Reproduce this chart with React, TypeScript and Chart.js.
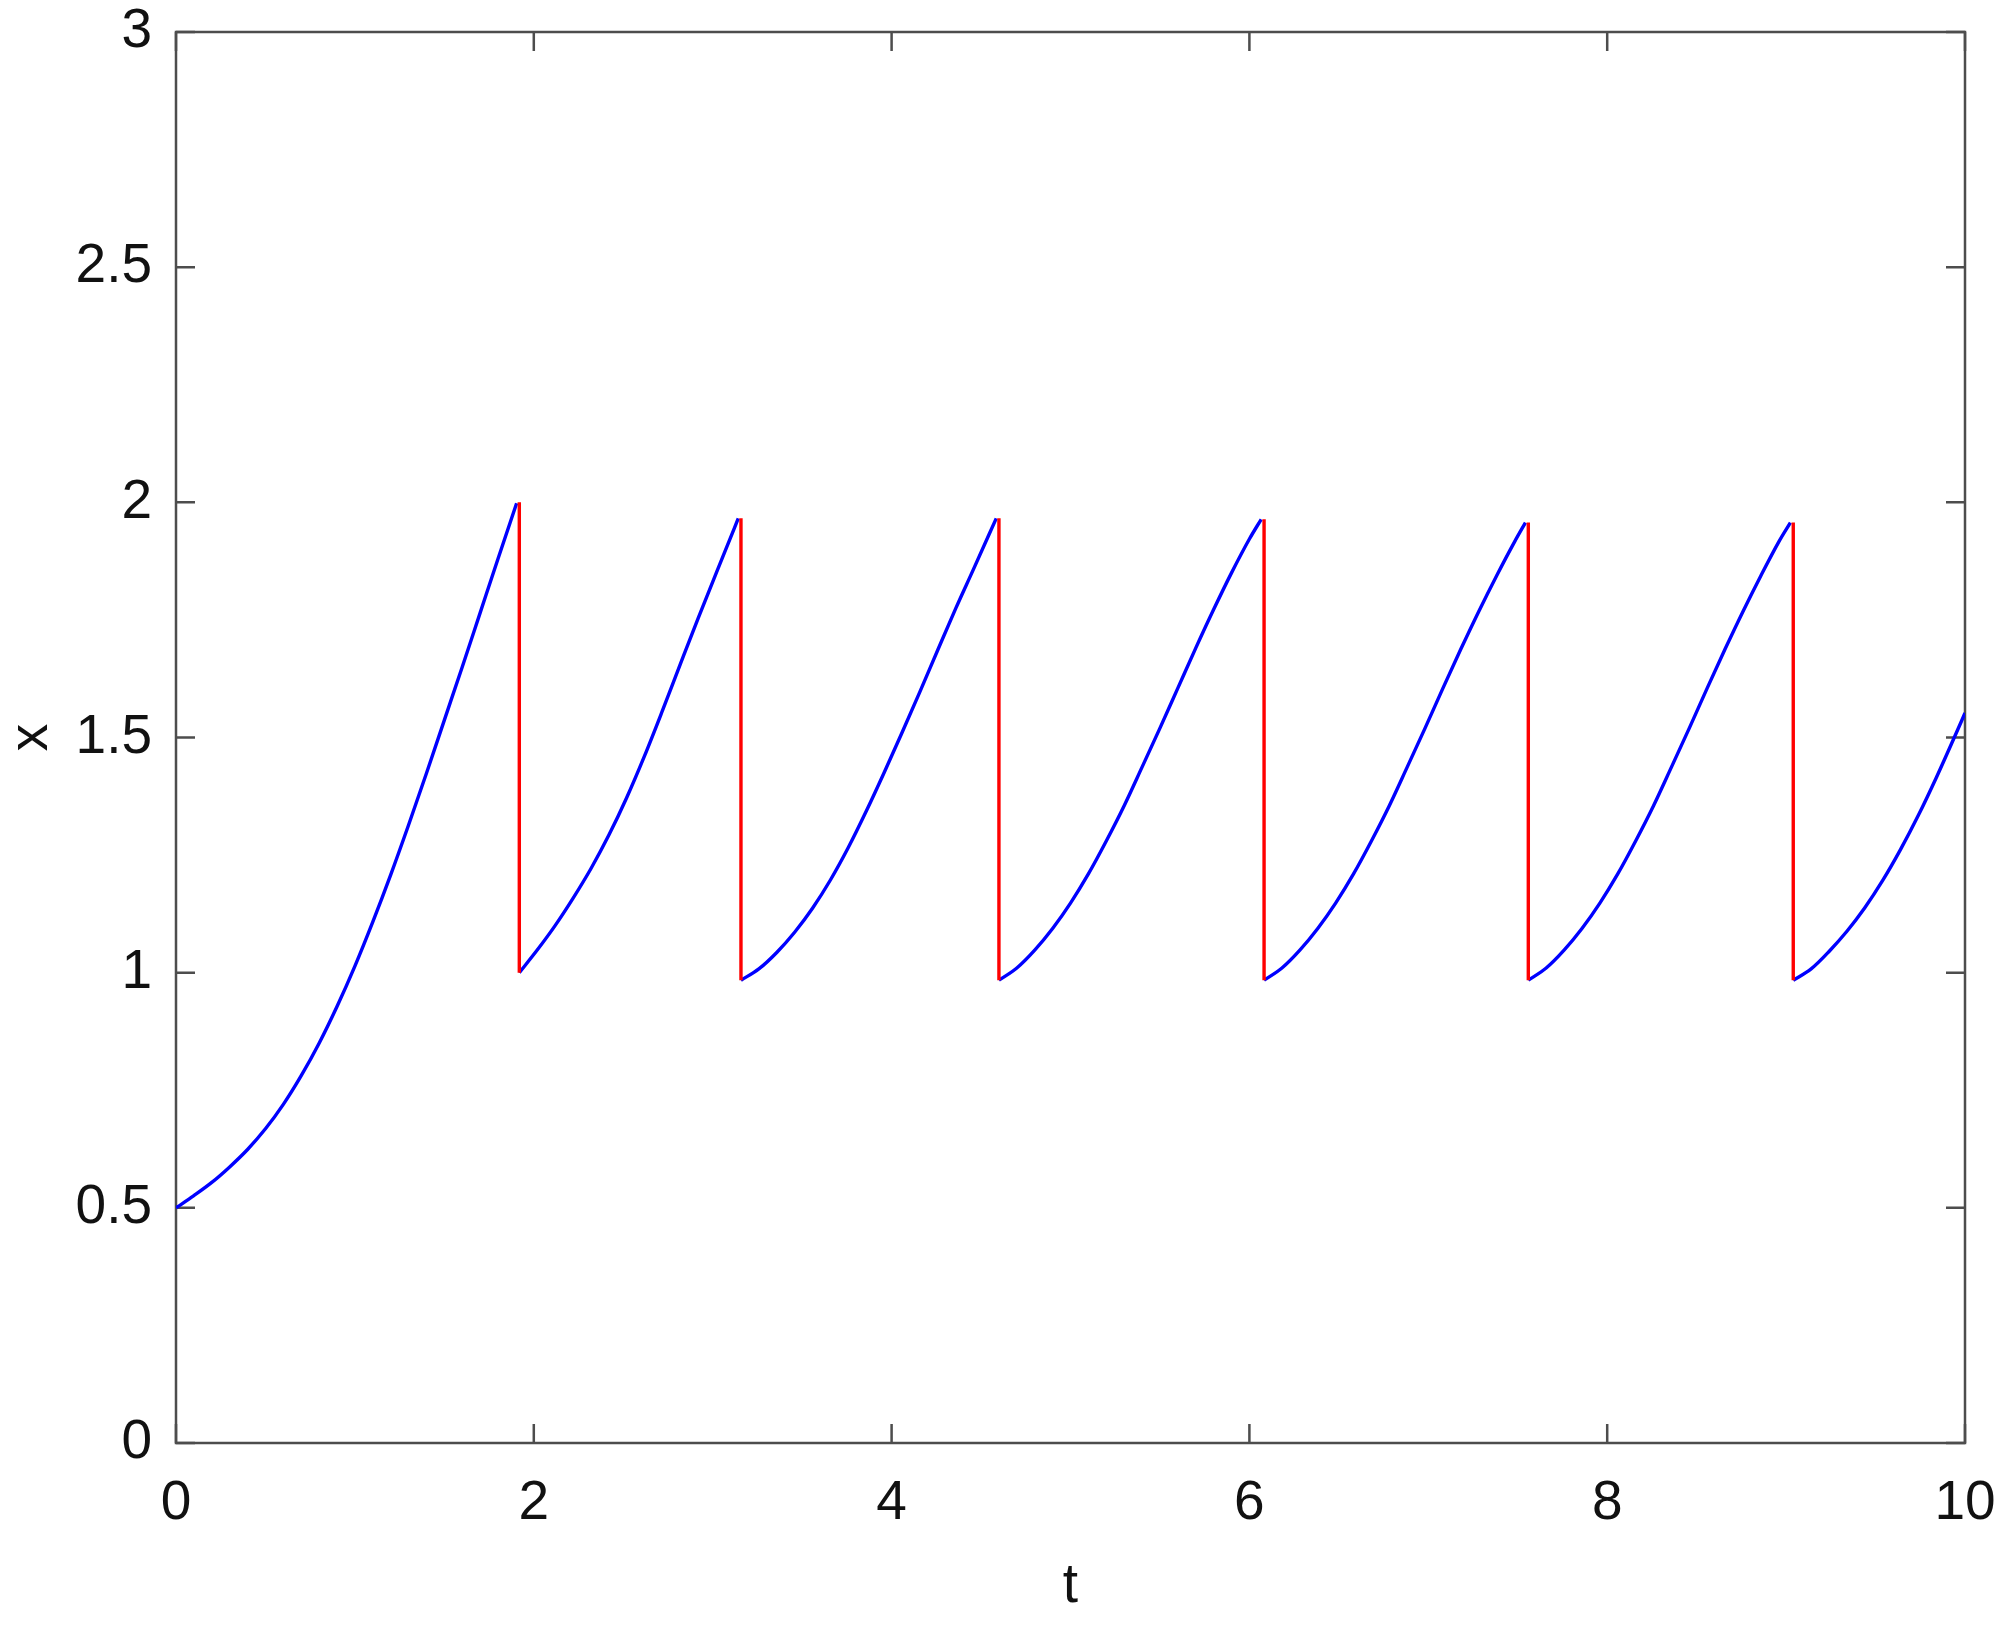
import React, { useEffect, useRef } from "react";
import { Chart, registerables } from "chart.js";

Chart.register(...registerables);

// ---- data ----
const xTicks = [0, 2, 4, 6, 8, 10];
const yTicks = [0, 0.5, 1, 1.5, 2, 2.5, 3];

const seg1T = [0, 0.1, 0.2, 0.3, 0.4, 0.5, 0.6, 0.7, 0.8, 0.9, 1.0, 1.1, 1.2, 1.3, 1.4, 1.5, 1.6, 1.7, 1.8, 1.904];
const seg1X = [0.5, 0.526, 0.554, 0.587, 0.624, 0.668, 0.72, 0.781, 0.85, 0.928, 1.014, 1.108, 1.208, 1.314, 1.424, 1.537, 1.65, 1.765, 1.88, 1.998];

const seg2T = [1.919, 2.019, 2.119, 2.219, 2.319, 2.419, 2.519, 2.619, 2.719, 2.819, 2.919, 3.019, 3.119, 3.143];
const seg2X = [1.0, 1.048, 1.1, 1.158, 1.221, 1.292, 1.372, 1.461, 1.557, 1.656, 1.754, 1.849, 1.943, 1.966];

const seg3T = [3.158, 3.258, 3.358, 3.458, 3.558, 3.658, 3.758, 3.858, 3.958, 4.058, 4.158, 4.258, 4.358, 4.458, 4.585];
const seg3X = [0.984, 1.008, 1.043, 1.086, 1.137, 1.197, 1.266, 1.343, 1.425, 1.51, 1.597, 1.686, 1.774, 1.858, 1.966];

const seg4T = [4.6, 4.7, 4.8, 4.9, 5.0, 5.1, 5.2, 5.3, 5.4, 5.5, 5.6, 5.7, 5.8, 5.9, 6.0, 6.066];
const seg4X = [0.984, 1.01, 1.048, 1.094, 1.148, 1.21, 1.28, 1.355, 1.437, 1.52, 1.605, 1.69, 1.772, 1.85, 1.922, 1.964];

const seg5T = [6.082, 6.182, 6.282, 6.382, 6.482, 6.582, 6.682, 6.782, 6.882, 6.982, 7.082, 7.182, 7.282, 7.382, 7.482, 7.543];
const seg5X = [0.984, 1.01, 1.048, 1.094, 1.148, 1.21, 1.28, 1.355, 1.437, 1.52, 1.605, 1.688, 1.768, 1.844, 1.916, 1.957];

const seg6T = [7.559, 7.659, 7.759, 7.859, 7.959, 8.059, 8.159, 8.259, 8.359, 8.459, 8.559, 8.659, 8.759, 8.859, 8.959, 9.024];
const seg6X = [0.984, 1.01, 1.048, 1.094, 1.148, 1.21, 1.28, 1.355, 1.437, 1.52, 1.605, 1.688, 1.768, 1.844, 1.916, 1.957];

const seg7T = [9.04, 9.14, 9.24, 9.34, 9.44, 9.54, 9.64, 9.74, 9.84, 9.94, 10.0];
const seg7X = [0.984, 1.008, 1.045, 1.088, 1.138, 1.196, 1.262, 1.335, 1.415, 1.5, 1.552];

const jumpT = [1.919, 3.158, 4.6, 6.082, 7.559, 9.04];
const jumpHigh = [2.0, 1.966, 1.966, 1.964, 1.957, 1.957];
const jumpLow = [1.0, 0.984, 0.984, 0.984, 0.984, 0.984];

const segT = [seg1T, seg2T, seg3T, seg4T, seg5T, seg6T, seg7T];
const segX = [seg1X, seg2X, seg3X, seg4X, seg5X, seg6X, seg7X];

const FONT = "'Liberation Sans', Arial, Helvetica, sans-serif";
const TEXT = "#111111";
const AXIS = "#4d4d4d";

const zeroPadding = (s: any) => {
  s.paddingTop = 0;
  s.paddingBottom = 0;
  s.paddingLeft = 0;
  s.paddingRight = 0;
};

export default function App() {
  const ref = useRef<HTMLCanvasElement>(null);

  useEffect(() => {
    document.body.style.margin = "0";
    const canvas = ref.current;
    if (!canvas) return;

    const frame = {
      id: "matlabFrame",
      beforeDatasetsDraw(chart: any) {
        const { ctx, chartArea } = chart;
        const xs = chart.scales.x;
        const ys = chart.scales.y;
        const { left, right, top, bottom } = chartArea;
        const tl = 19;
        ctx.save();
        ctx.strokeStyle = AXIS;
        ctx.lineWidth = 2.5;
        ctx.beginPath();
        for (const v of xTicks) {
          const px = xs.getPixelForValue(v);
          ctx.moveTo(px, bottom);
          ctx.lineTo(px, bottom - tl);
          ctx.moveTo(px, top);
          ctx.lineTo(px, top + tl);
        }
        for (const v of yTicks) {
          const py = ys.getPixelForValue(v);
          ctx.moveTo(left, py);
          ctx.lineTo(left + tl, py);
          ctx.moveTo(right, py);
          ctx.lineTo(right - tl, py);
        }
        ctx.stroke();
        ctx.strokeRect(left, top, right - left, bottom - top);
        ctx.restore();
      },
    };

    const blue = segT.map((ts, i) => ({
      data: ts.map((t, j) => ({ x: t, y: segX[i][j] })),
      borderColor: "#0000ff",
      borderWidth: 3.4,
      pointRadius: 0,
      cubicInterpolationMode: "monotone" as const,
      fill: false,
    }));
    const red = jumpT.map((t, i) => ({
      data: [
        { x: t, y: jumpHigh[i] },
        { x: t, y: jumpLow[i] },
      ],
      borderColor: "#ff0000",
      borderWidth: 3.4,
      pointRadius: 0,
      fill: false,
    }));

    const chart = new Chart(canvas, {
      type: "line",
      data: { datasets: [...red, ...blue] as any },
      options: {
        animation: false,
        responsive: false,
        maintainAspectRatio: false,
        devicePixelRatio: 1,
        layout: { padding: { top: 32, right: 35, left: 0, bottom: 0 } },
        plugins: {
          legend: { display: false },
          tooltip: { enabled: false },
          title: { display: false },
        },
        elements: { point: { radius: 0 } },
        scales: {
          x: {
            type: "linear",
            min: 0,
            max: 10,
            afterBuildTicks: (s: any) => {
              s.ticks = xTicks.map((v) => ({ value: v }));
            },
            afterFit: (s: any) => {
              s.height = 194;
              zeroPadding(s);
            },
            ticks: {
              color: TEXT,
              font: { family: FONT, size: 55, lineHeight: 1 },
              padding: 33,
              maxRotation: 0,
              autoSkip: false,
              callback: (v: any) => String(v),
            },
            grid: { display: false, drawTicks: false },
            border: { display: false },
            title: {
              display: true,
              text: "t",
              color: TEXT,
              font: { family: FONT, size: 55, lineHeight: 1.2 },
              padding: { top: 0, bottom: 17 },
            },
          },
          y: {
            type: "linear",
            min: 0,
            max: 3,
            afterBuildTicks: (s: any) => {
              s.ticks = yTicks.map((v) => ({ value: v }));
            },
            afterFit: (s: any) => {
              s.width = 176;
              zeroPadding(s);
            },
            ticks: {
              color: TEXT,
              font: { family: FONT, size: 55, lineHeight: 1 },
              padding: 24,
              autoSkip: false,
              callback: (v: any) => String(v),
            },
            grid: { display: false, drawTicks: false },
            border: { display: false },
            title: {
              display: true,
              text: "x",
              color: TEXT,
              font: { family: FONT, size: 55, lineHeight: 1 },
              padding: { top: 4, bottom: 0 },
            },
          },
        },
      },
      plugins: [frame],
    });

    return () => chart.destroy();
  }, []);

  return (
    <canvas
      ref={ref}
      width={2000}
      height={1637}
      style={{ display: "block", width: "2000px", height: "1637px" }}
    />
  );
}
